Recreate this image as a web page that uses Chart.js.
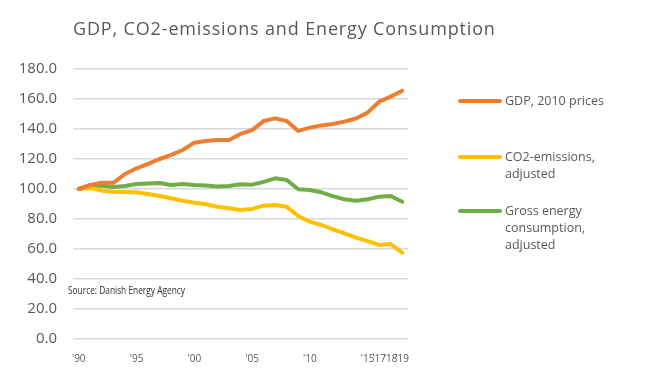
<!DOCTYPE html>
<html>
<head>
<meta charset="utf-8">
<script src="https://cdn.jsdelivr.net/npm/chart.js@4"></script>
<style>
  html, body { margin: 0; padding: 0; background: #fff; }
  #wrap { position: relative; width: 666px; height: 371px; }
</style>
</head>
<body>
<div id="wrap"><canvas id="chart" width="666" height="371"></canvas></div>
<script>
// ── Data ─────────────────────────────────────────────────────────────
const title = 'GDP, CO2-emissions and Energy Consumption';
const source = 'Source: Danish Energy Agency';

// no 2016 in the source series
const years = [1990, 1991, 1992, 1993, 1994, 1995, 1996, 1997, 1998, 1999,
               2000, 2001, 2002, 2003, 2004, 2005, 2006, 2007, 2008, 2009,
               2010, 2011, 2012, 2013, 2014, 2015, 2017, 2018, 2019];
const shownTicks = { 1990: "'90", 1995: "'95", 2000: "'00", 2005: "'05", 2010: "'10",
                     2015: "'15", 2017: "'17", 2018: "'18", 2019: "'19" };

const gdp    = [100, 102.7, 104.2, 104.1, 110, 113.8, 116.7, 120, 122.7, 126,
                130.9, 132, 132.7, 132.7, 136.7, 139.3, 145.3, 147.1, 145.3, 138.7,
                140.9, 142.4, 143.3, 144.9, 147, 150.9, 158.2, 161.6, 165.5];
const co2    = [100, 100.7, 98.9, 98.2, 98, 97.8, 96.7, 95.3, 93.8, 92.2,
                90.9, 89.8, 88.2, 87.1, 86, 86.7, 88.9, 89.3, 88.2, 82,
                78.2, 76, 73.1, 70.4, 67.6, 65.3, 62.7, 63.3, 57.5];
const energy = [100, 102.2, 102.2, 101.3, 102, 103.3, 103.6, 104, 102.7, 103.3,
                102.7, 102.4, 101.6, 102, 103.1, 102.9, 104.7, 107.1, 106, 99.8,
                99.3, 97.8, 95.3, 93.1, 92.2, 93.1, 94.9, 95.3, 91.5];

const seriesNames = ['GDP, 2010 prices', 'CO2-emissions, adjusted', 'Gross energy consumption, adjusted'];
const legendLines = [['GDP, 2010 prices'], ['CO2-emissions,', 'adjusted'], ['Gross energy', 'consumption,', 'adjusted']];

// ── Styles ───────────────────────────────────────────────────────────
const COLORS = { orange: '#ED7D31', yellow: '#FFC000', green: '#70AD47', text: '#595959', note: '#303030', grid: '#d9d9d9' };
const FONT = '"Open Sans", sans-serif';

function line(label, data, color) {
  return { label, data, borderColor: color, backgroundColor: color, borderWidth: 4,
           pointRadius: 0, tension: 0, borderCapStyle: 'round', borderJoinStyle: 'round' };
}

// title, source note and side legend drawn on the canvas
const decor = {
  id: 'decor',
  afterDraw(chart) {
    const ctx = chart.ctx;
    ctx.save();
    ctx.fillStyle = COLORS.text;
    ctx.textBaseline = 'alphabetic';
    ctx.font = '18px ' + FONT;
    ctx.letterSpacing = '0.85px';
    ctx.fillText(title, 73, 35);
    ctx.letterSpacing = '0px';

    // condensed look, like the narrow face in the original
    ctx.fillStyle = COLORS.note;
    ctx.font = '11px ' + FONT;
    ctx.textBaseline = 'middle';
    ctx.fillText(source, 68, 291, 117);

    const rowsY = [101, 157, 211];
    chart.data.datasets.forEach((ds, i) => {
      const y = rowsY[i];
      ctx.strokeStyle = ds.borderColor;
      ctx.lineWidth = 4;
      ctx.lineCap = 'round';
      ctx.beginPath(); ctx.moveTo(460, y); ctx.lineTo(500, y); ctx.stroke();
      ctx.fillStyle = COLORS.text;
      ctx.font = '12.5px ' + FONT;
      legendLines[i].forEach((t, k) => ctx.fillText(t, 505, y + k * 17));
    });
    ctx.restore();
  }
};

new Chart(document.getElementById('chart'), {
  type: 'line',
  data: {
    labels: years,
    datasets: [
      line(seriesNames[0], gdp, COLORS.orange),
      line(seriesNames[1], co2, COLORS.yellow),
      line(seriesNames[2], energy, COLORS.green),
    ]
  },
  options: {
    responsive: false,
    animation: false,
    layout: { padding: { top: 69, right: 258, bottom: 0, left: 0 } },
    plugins: { legend: { display: false }, tooltip: { enabled: false } },
    scales: {
      x: {
        offset: true,
        grid: { display: false },
        border: { display: false },
        ticks: {
          autoSkip: false, maxRotation: 0, minRotation: 0, padding: 6,
          color: COLORS.text, font: { family: FONT, size: 10 },
          callback: (v, i) => shownTicks[years[i]] || ''
        },
        afterFit: s => { s.height = 32; }
      },
      y: {
        min: 0, max: 180,
        grid: { color: COLORS.grid, lineWidth: 1.5, drawTicks: false },
        border: { display: false },
        ticks: {
          stepSize: 20, padding: 16, color: COLORS.text,
          font: { family: FONT, size: 15 },
          callback: v => v.toFixed(1)
        },
        afterFit: s => { s.width = 73; }
      }
    }
  },
  plugins: [decor]
});
</script>
</body>
</html>
